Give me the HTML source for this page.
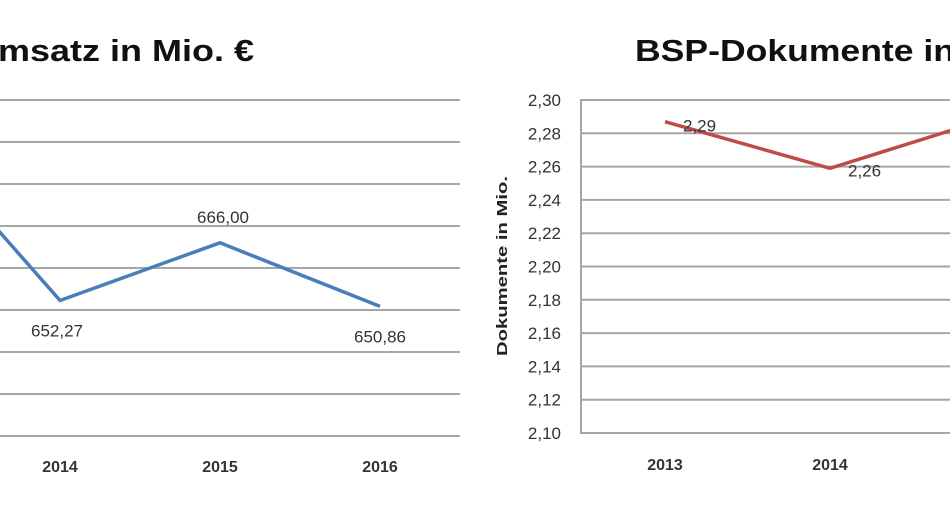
<!DOCTYPE html>
<html><head><meta charset="utf-8"><style>
html,body{margin:0;padding:0;background:#fff;width:950px;height:511px;overflow:hidden}
text{font-family:"Liberation Sans",sans-serif}
</style></head><body>
<svg id="svg" width="950" height="511" xmlns="http://www.w3.org/2000/svg">
<text x="-2" y="61" font-size="31" font-weight="bold" fill="#111" textLength="256" lengthAdjust="spacingAndGlyphs">msatz in Mio. €</text>
<text x="635" y="61" font-size="31" font-weight="bold" fill="#111" textLength="320" lengthAdjust="spacingAndGlyphs">BSP-Dokumente in</text>
<text transform="translate(507,266) rotate(-90)" text-anchor="middle" font-size="15" font-weight="bold" fill="#222" textLength="180" lengthAdjust="spacingAndGlyphs">Dokumente in Mio.</text>
<g id="left"></g>
<g id="right"></g>
</svg>
<script>
const leftYears = ["2013","2014","2015","2016"];
const leftValues = [695.5, 652.27, 666.00, 650.86];
const leftLabels = ["", "652,27", "666,00", "650,86"];
const leftTicks = [620,630,640,650,660,670,680,690,700];

const rightYears = ["2013","2014","2015"];
const rightValues = [2.287, 2.259, 2.29];
const rightLabels = ["2,29","2,26",""];
const rightTicks = [2.10,2.12,2.14,2.16,2.18,2.20,2.22,2.24,2.26,2.28,2.30];

const NS="http://www.w3.org/2000/svg";
function mk(tag, attrs, parent){const e=document.createElementNS(NS,tag);for(const k in attrs)e.setAttribute(k,attrs[k]);parent.appendChild(e);return e;}

// left chart
const L=document.getElementById('left');
const lx=i=>-100+i*160;
const ly=v=>310-(v-650)*4.2;
leftTicks.forEach(t=>{
  const g=mk('line',{x1:0,x2:460,y1:ly(t),y2:ly(t),stroke:'#a6a6a6','stroke-width':2},L);
  
  
});
leftYears.forEach((y,i)=>{
  const t=mk('text',{x:lx(i),y:472,'text-anchor':'middle','font-size':16,'font-weight':'bold',fill:'#333'},L);
  t.textContent=y;
  
  
});
const lp=mk('polyline',{points:leftValues.map((v,i)=>lx(i)+','+ly(v)).join(' '),fill:'none',stroke:'#4a7ebb','stroke-width':3.5,'stroke-linejoin':'miter'},L);


leftValues.forEach((v,i)=>{
  if(!leftLabels[i])return;
  const above=i===2;
  const t=mk('text',{x:lx(i)+(above?3:(i===3?0:-3)),y:above?ly(v)-20:ly(v)+36,'text-anchor':'middle','font-size':17,fill:'#333'},L);
  t.textContent=leftLabels[i];
  
  
});

// right chart
const R=document.getElementById('right');
const rx=i=>665+i*165;
const ry=v=>433-(v-2.10)/0.2*333;
rightTicks.forEach(t=>{
  const g=mk('line',{x1:580,x2:950,y1:ry(t),y2:ry(t),stroke:'#a6a6a6','stroke-width':2},R);
  
  
  const l=mk('text',{x:561,y:ry(t)+6,'text-anchor':'end','font-size':17,fill:'#333'},R);
  l.textContent=t.toFixed(2).replace('.',',');
  
  
});
const ax=mk('line',{x1:581,x2:581,y1:99,y2:434,stroke:'#a6a6a6','stroke-width':2},R);


rightYears.forEach((y,i)=>{
  const t=mk('text',{x:rx(i),y:470,'text-anchor':'middle','font-size':16,'font-weight':'bold',fill:'#333'},R);
  t.textContent=y;
  
  
});
const rp=mk('polyline',{points:rightValues.map((v,i)=>rx(i)+','+ry(v)).join(' '),fill:'none',stroke:'#be4b48','stroke-width':3.5},R);


rightValues.forEach((v,i)=>{
  if(!rightLabels[i])return;
  const t=mk('text',{x:rx(i)+18,y:ry(v)+(i===0?10:8),'font-size':17,fill:'#333'},R);
  t.textContent=rightLabels[i];
  
  
});
</script>
</body></html>
